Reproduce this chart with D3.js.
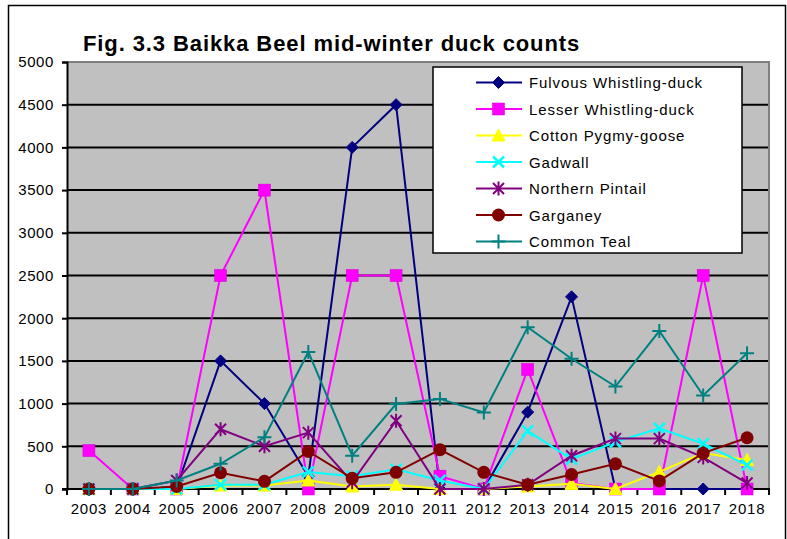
<!DOCTYPE html>
<html>
<head>
<meta charset="utf-8">
<script src="https://cdn.jsdelivr.net/npm/d3@7"></script>
<style>
  html, body { margin: 0; padding: 0; background: #fff; }
  svg { display: block; font-family: "Liberation Sans", Arial, sans-serif; }
</style>
</head>
<body>
<svg id="chart" width="787" height="539"></svg>
<script>
// Survey years
const years = ["2003","2004","2005","2006","2007","2008","2009","2010","2011","2012","2013","2014","2015","2016","2017","2018"];

// Counts per species, one value per year
const fulvousWhistlingDuck = [0, 0, 20, 1500, 1000, 150, 4000, 4500, 0, 0, 900, 2250, 0, 0, 0, 0];
const lesserWhistlingDuck  = [450, 0, 0, 2500, 3500, 0, 2500, 2500, 150, 0, 1400, 70, 0, 0, 2500, 0];
const cottonPygmyGoose     = [0, 0, 0, 40, 40, 100, 30, 50, 0, 0, 30, 60, 0, 200, 420, 340];
const gadwall              = [0, 0, 0, 50, 50, 200, 150, 230, 100, 0, 680, 350, 550, 710, 530, 280];
const northernPintail      = [0, 0, 100, 700, 500, 660, 80, 800, 0, 0, 50, 390, 590, 590, 370, 70];
const garganey             = [0, 0, 30, 190, 90, 440, 125, 195, 460, 195, 50, 170, 295, 95, 420, 600];
const commonTeal           = [0, 0, 100, 295, 605, 1605, 390, 995, 1055, 895, 1895, 1525, 1200, 1850, 1095, 1590];

const yTicks = [0, 500, 1000, 1500, 2000, 2500, 3000, 3500, 4000, 4500, 5000];

const series = [
  { name: "Fulvous Whistling-duck", values: fulvousWhistlingDuck, color: "#000080", marker: "diamond" },
  { name: "Lesser Whistling-duck",  values: lesserWhistlingDuck,  color: "#FF00FF", marker: "square" },
  { name: "Cotton Pygmy-goose",     values: cottonPygmyGoose,     color: "#FFFF00", marker: "triangle" },
  { name: "Gadwall",                values: gadwall,              color: "#00FFFF", marker: "x" },
  { name: "Northern Pintail",       values: northernPintail,      color: "#800080", marker: "star" },
  { name: "Garganey",               values: garganey,             color: "#800000", marker: "circle" },
  { name: "Common Teal",            values: commonTeal,           color: "#008080", marker: "plus" }
];

const svg = d3.select("#chart");
const plot = { left: 67, right: 769, top: 62, bottom: 489 };

// Outer chart frame
svg.append("rect")
  .attr("x", 8.5).attr("y", 5.5)
  .attr("width", 777).attr("height", 560)
  .attr("fill", "#fff").attr("stroke", "#000").attr("stroke-width", 1.5);

const x = d3.scaleBand().domain(years).range([plot.left, plot.right]).padding(0);
const cx = d => x(d) + x.bandwidth() / 2;
const y = d3.scaleLinear().domain([0, 5000]).range([plot.bottom, plot.top]);

// Plot area background
svg.append("rect")
  .attr("x", plot.left).attr("y", plot.top)
  .attr("width", plot.right - plot.left).attr("height", plot.bottom - plot.top)
  .attr("fill", "#C0C0C0");

// Horizontal gridlines
svg.append("g")
  .selectAll("line")
  .data(yTicks.filter(t => t > 0 && t < 5000))
  .join("line")
  .attr("x1", plot.left).attr("x2", plot.right)
  .attr("y1", d => y(d)).attr("y2", d => y(d))
  .attr("stroke", "#000").attr("stroke-width", 2);

// Plot area border (top and right)
svg.append("path")
  .attr("d", `M${plot.left},${plot.top}H${plot.right}V${plot.bottom}`)
  .attr("fill", "none").attr("stroke", "#808080").attr("stroke-width", 2);

// Y axis
const yAxis = svg.append("g")
  .attr("transform", `translate(${plot.left},0)`)
  .call(d3.axisLeft(y).tickValues(yTicks).tickSize(5).tickPadding(8).tickFormat(d3.format("d")));
yAxis.select(".domain").attr("stroke", "#000").attr("stroke-width", 2);
yAxis.selectAll(".tick line").attr("stroke", "#000").attr("stroke-width", 2);
yAxis.selectAll(".tick text")
  .attr("font-size", 15).attr("fill", "#000")
  .attr("font-family", "'Liberation Sans', Arial, sans-serif")
  .style("letter-spacing", "0.6px");

// X axis: labels centred on categories, ticks at category boundaries
const xAxis = svg.append("g")
  .attr("transform", `translate(0,${plot.bottom})`)
  .call(d3.axisBottom(x).tickSize(0).tickPadding(14));
xAxis.select(".domain").remove();
xAxis.selectAll(".tick text")
  .attr("font-size", 15).attr("fill", "#000")
  .attr("font-family", "'Liberation Sans', Arial, sans-serif")
  .style("letter-spacing", "0.8px");

const boundaries = years.map(d => x(d)).concat([plot.right]);
svg.append("g")
  .selectAll("line")
  .data(boundaries)
  .join("line")
  .attr("x1", d => d).attr("x2", d => d)
  .attr("y1", plot.bottom).attr("y2", plot.bottom + 6)
  .attr("stroke", "#000").attr("stroke-width", 2);
svg.append("line")
  .attr("x1", plot.left - 5).attr("x2", plot.right + 1)
  .attr("y1", plot.bottom).attr("y2", plot.bottom)
  .attr("stroke", "#000").attr("stroke-width", 2);

// Marker drawing
function drawMarker(g, type, color) {
  switch (type) {
    case "diamond":
      g.append("path").attr("d", "M0,-6L6,0L0,6L-6,0Z")
        .attr("fill", color).attr("stroke", color).attr("stroke-width", 1);
      break;
    case "square":
      g.append("rect").attr("x", -6).attr("y", -6).attr("width", 12).attr("height", 12)
        .attr("fill", color).attr("stroke", "#d000d0").attr("stroke-width", 0.5);
      break;
    case "triangle":
      g.append("path").attr("d", "M0,-6.5L6.5,5.5L-6.5,5.5Z")
        .attr("fill", color).attr("stroke", color).attr("stroke-width", 1);
      break;
    case "x":
      g.append("path").attr("d", "M-5.5,-5.5L5.5,5.5M-5.5,5.5L5.5,-5.5")
        .attr("stroke", color).attr("stroke-width", 2.5).attr("fill", "none");
      break;
    case "star":
      g.append("path").attr("d", "M-5.5,-5.5L5.5,5.5M-5.5,5.5L5.5,-5.5M0,-7V7")
        .attr("stroke", color).attr("stroke-width", 2).attr("fill", "none");
      break;
    case "circle":
      g.append("circle").attr("r", 6.5).attr("fill", color);
      break;
    case "plus":
      g.append("path").attr("d", "M-7,0H7M0,-7V7")
        .attr("stroke", color).attr("stroke-width", 2).attr("fill", "none");
      break;
  }
}

const line = d3.line().x((d, i) => cx(years[i])).y(d => y(d));

// Series lines and markers, drawn in legend order
series.forEach(s => {
  const g = svg.append("g");
  g.append("path")
    .datum(s.values)
    .attr("d", line)
    .attr("fill", "none")
    .attr("stroke", s.color)
    .attr("stroke-width", 2);
  g.selectAll("g.mk")
    .data(s.values)
    .join("g")
    .attr("class", "mk")
    .attr("transform", (d, i) => `translate(${cx(years[i])},${y(d)})`)
    .each(function () { drawMarker(d3.select(this), s.marker, s.color); });
});

// Title
svg.append("text")
  .attr("x", 83).attr("y", 51)
  .attr("font-size", 22).attr("font-weight", "bold")
  .attr("font-family", "Arial, 'Liberation Sans', sans-serif")
  .attr("fill", "#000")
  .style("letter-spacing", "0.9px")
  .text("Fig. 3.3 Baikka Beel mid-winter duck counts");

// Legend
const legend = svg.append("g");
legend.append("rect")
  .attr("x", 433).attr("y", 67)
  .attr("width", 309).attr("height", 186)
  .attr("fill", "#fff").attr("stroke", "#000").attr("stroke-width", 1.5);

const legendY = d3.scalePoint().domain(series.map(s => s.name)).range([82.5, 241.5]);
series.forEach(s => {
  const ly = legendY(s.name);
  legend.append("line")
    .attr("x1", 476).attr("x2", 522)
    .attr("y1", ly).attr("y2", ly)
    .attr("stroke", s.color).attr("stroke-width", 2);
  const mg = legend.append("g").attr("transform", `translate(498.5,${ly})`);
  drawMarker(mg, s.marker, s.color);
  legend.append("text")
    .attr("x", 529).attr("y", ly + 5.5)
    .attr("font-size", 15).attr("fill", "#000")
    .style("letter-spacing", "0.9px")
    .text(s.name);
});
</script>
</body>
</html>
